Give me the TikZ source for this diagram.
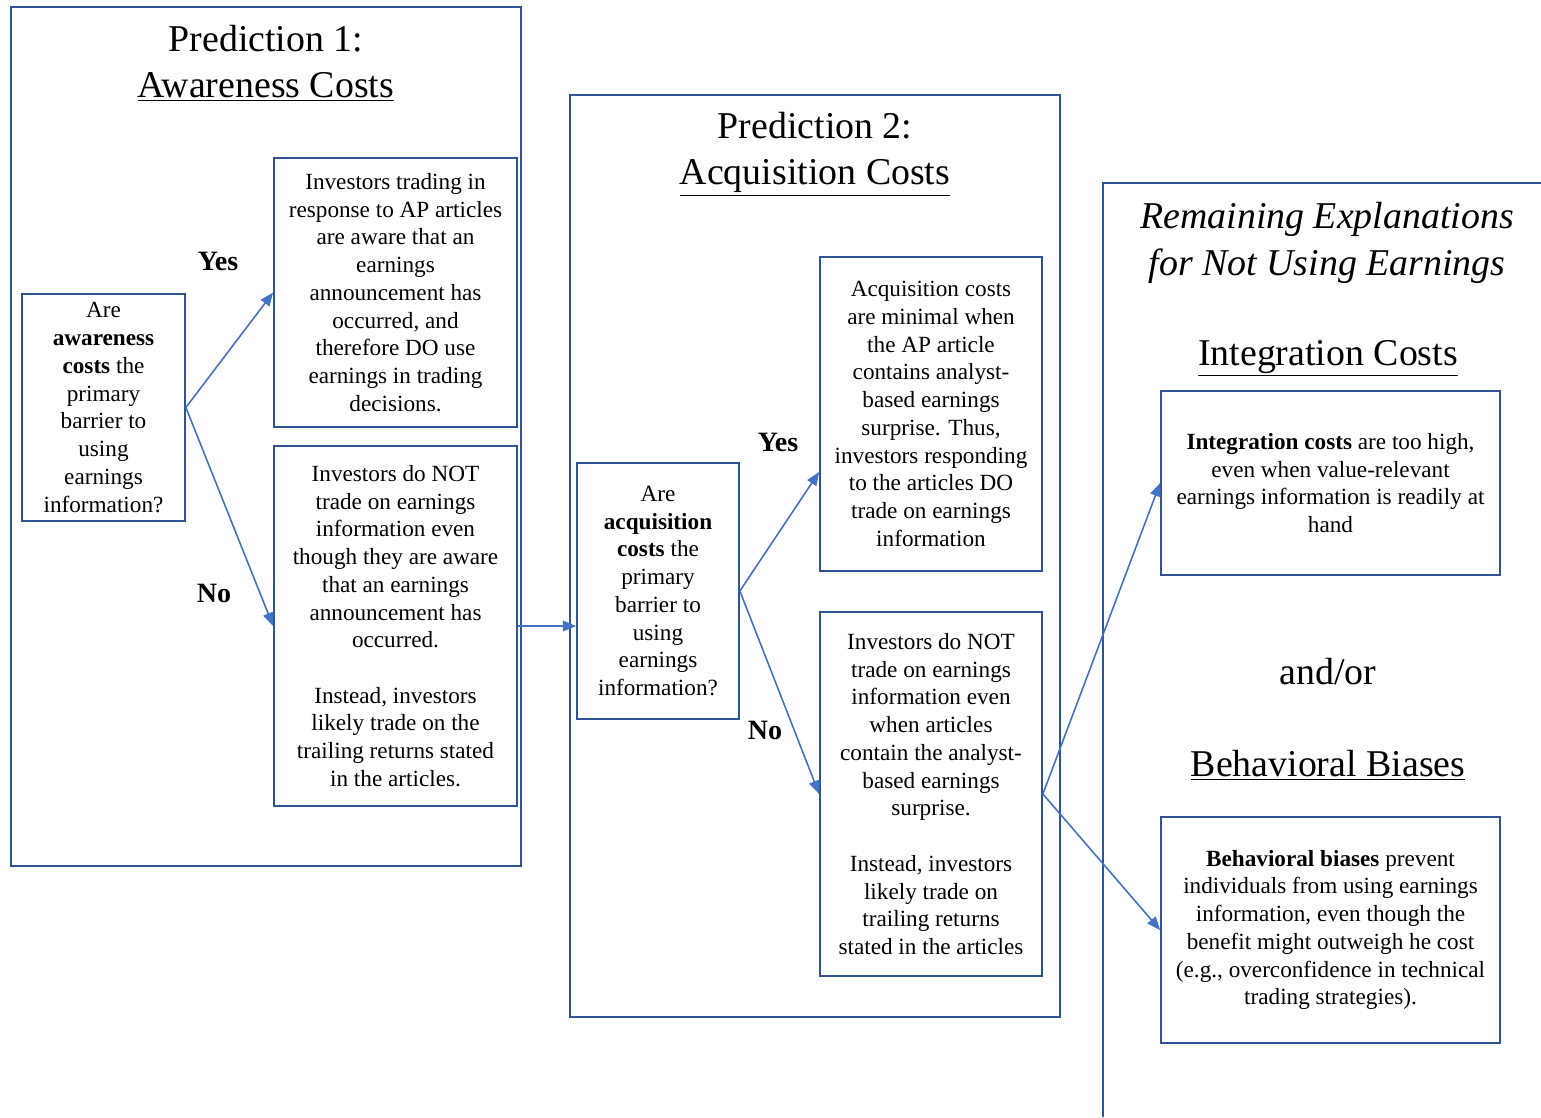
\documentclass[tikz,border=0pt]{standalone}
\usepackage{fontspec}
\setmainfont{Liberation Serif}
\usepackage{xcolor}
\definecolor{FrameBlue}{RGB}{47,84,150}
\definecolor{ArrowBlue}{RGB}{68,114,196}
\usetikzlibrary{arrows.meta}
\newcommand*{\bodyfont}{\fontsize{17.4}{20.8}\selectfont}
\newcommand*{\headfont}{\fontsize{28.4}{34.8}\selectfont}
\tikzset{%
  px/.style={x=0.75pt,y=-0.75pt},
  frame lines/.style={draw=FrameBlue, line width=1.3pt},
  textbox/.style 2 args={frame lines, align=center, inner sep=0pt,
    minimum width=#1*0.75pt, minimum height=#2*0.75pt, font=\bodyfont},
  heading/.style={align=center, font=\headfont, inner sep=0pt},
  answer/.style={font=\fontsize{21}{25}\selectfont\bfseries, inner sep=0pt},
  flow/.style={draw=ArrowBlue, line width=1.2pt, -{Triangle[length=10pt,width=8pt]}}
}

\begin{document}
\begin{tikzpicture}[px]
  \useasboundingbox (0,0) rectangle (1541,1117);
  % Prediction 1 panel.
  \draw[frame lines] (11,7) rectangle (521,866);
  \node[heading] (title1) at (266,63) {Prediction 1:\\\underline{Awareness Costs}};
  \node[textbox={163}{227}] (q1) at (103.5,407.5)
    {Are\\\textbf{awareness}\\\textbf{costs} the\\primary\\barrier to\\using\\earnings\\information?};
  \node[textbox={243}{269}] (yes1) at (395.5,292.5)
    {Investors trading in\\response to AP articles\\are aware that an\\earnings\\announcement has\\occurred, and\\therefore DO use\\earnings in trading\\decisions.};
  \node[textbox={243}{360}] (no1) at (395.5,626)
    {Investors do NOT\\trade on earnings\\information even\\though they are aware\\that an earnings\\announcement has\\occurred.\\[20.8pt]Instead, investors\\likely trade on the\\trailing returns stated\\in the articles.};
  \node[answer] (yes1label) at (218,261) {Yes};
  \node[answer] (no1label) at (214,593) {No};
  \draw[flow] (q1.east) -- (yes1.west);
  \draw[flow] (q1.east) -- (no1.west);
  % Prediction 2 panel.
  \draw[frame lines] (570,95) rectangle (1060,1017);
  \node[heading] (title2) at (815,154) {Prediction 2:\\\underline{Acquisition Costs}};
  \node[textbox={162}{256}] (q2) at (658,591)
    {Are\\\textbf{acquisition}\\\textbf{costs} the\\primary\\barrier to\\using\\earnings\\information?};
  \node[textbox={222}{314}] (yes2) at (931,414)
    {Acquisition costs\\are minimal when\\the AP article\\contains analyst-\\based earnings\\surprise. Thus,\\investors responding\\to the articles DO\\trade on earnings\\information};
  \node[textbox={222}{364}] (no2) at (931,794)
    {Investors do NOT\\trade on earnings\\information even\\when articles\\contain the analyst-\\based earnings\\surprise.\\[20.8pt]Instead, investors\\likely trade on\\trailing returns\\stated in the articles};
  \node[answer] (yes2label) at (778,442) {Yes};
  \node[answer] (no2label) at (765,730) {No};
  \draw[flow] (no1.east) -- (no1.east -| q2.west);
  \draw[flow] (q2.east) -- ([yshift=-58*0.75pt]yes2.west);
  \draw[flow] (q2.east) -- (no2.west);
  % Remaining explanations, open to the right and below.
  \draw[frame lines] (1541,183) -- (1103,183) -- (1103,1117);
  \node[heading, font=\headfont\itshape] (title3) at (1327,243)
    {Remaining Explanations\\for Not Using Earnings};
  \node[heading] (integlabel) at (1328,358) {\underline{Integration Costs}};
  \node[heading] (andor) at (1328,672) {and/or};
  \node[heading] (behavlabel) at (1328,765) {\underline{Behavioral Biases}};
  \node[textbox={339}{184}] (integ) at (1330.5,483)
    {\textbf{Integration costs} are too high,\\even when value-relevant\\earnings information is readily at\\hand};
  \node[textbox={339}{226}] (behav) at (1330.5,930)
    {\textbf{Behavioral biases} prevent\\individuals from using earnings\\information, even though the\\benefit might outweigh he cost\\(e.g., overconfidence in technical\\trading strategies).};
  \draw[flow] (no2.east) -- (integ.west);
  \draw[flow] (no2.east) -- (behav.west);
\end{tikzpicture}
\end{document}
